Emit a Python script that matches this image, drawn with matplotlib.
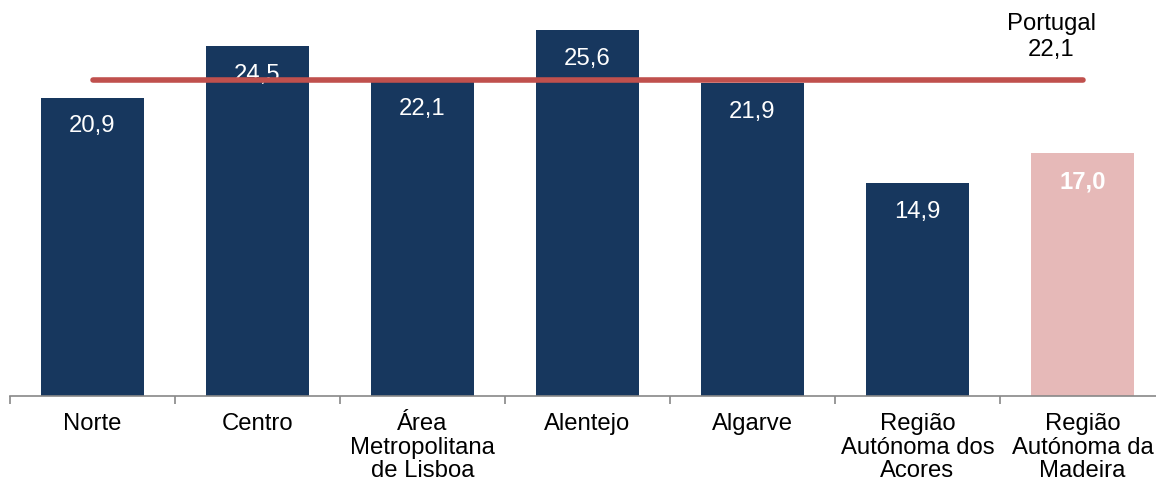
import matplotlib
matplotlib.use("Agg")
import matplotlib.pyplot as plt
import numpy as np

plt.rcParams['font.family'] = ['Liberation Sans', 'DejaVu Sans']

categories = ["Norte", "Centro", "Área\nMetropolitana\nde Lisboa", "Alentejo", "Algarve",
              "Região\nAutónoma dos\nAcores", "Região\nAutónoma da\nMadeira"]
values = [20.9, 24.5, 22.1, 25.6, 21.9, 14.9, 17.0]
labels = ["20,9", "24,5", "22,1", "25,6", "21,9", "14,9", "17,0"]
portugal_value = 22.1
portugal_label = "Portugal\n22,1"

W, H = 1156, 489
fig = plt.figure(figsize=(W / 100, H / 100), dpi=100)
ax = fig.add_axes([10 / W, (H - 397) / H, 1155 / W, 397 / H])

x = np.arange(len(categories))
colors = ["#17375E"] * 6 + ["#E6B9B8"]
ax.bar(x, values, width=0.625, color=colors, zorder=2)

for xi, v, lab in zip(x, values, labels):
    bold = xi == len(categories) - 1
    ax.text(xi, v - 1.95, lab, ha="center", va="center", color="white",
            fontsize=17.2, fontweight="bold" if bold else "normal", zorder=3)

ax.plot([x[0], x[-1]], [portugal_value, portugal_value], color="#C0504D",
        lw=4, solid_capstyle="round", zorder=4)
ax.text(5.81, 25.2, portugal_label, ha="center", va="center", fontsize=17.2,
        linespacing=1.2, color="black")

ax.set_xlim(-0.5, len(categories) - 0.5)
ax.set_ylim(0, 397 / 14.28)

for s in ["top", "right", "left"]:
    ax.spines[s].set_visible(False)
ax.spines["bottom"].set_color("#888888")
ax.spines["bottom"].set_linewidth(1.2)
ax.set_yticks([])

ax.set_xticks(np.arange(len(categories) + 1) - 0.5)
ax.set_xticklabels([])
ax.tick_params(axis="x", which="major", length=6, width=1.2, color="#888888", direction="out")
ax.set_xticks(x, minor=True)
ax.set_xticklabels(categories, minor=True, fontsize=17.2, linespacing=1.1)
ax.tick_params(axis="x", which="minor", length=0, pad=11.5)
for t in ax.get_xticklabels(minor=True):
    t.set_verticalalignment("top")

fig.savefig("out.png", dpi=100)
